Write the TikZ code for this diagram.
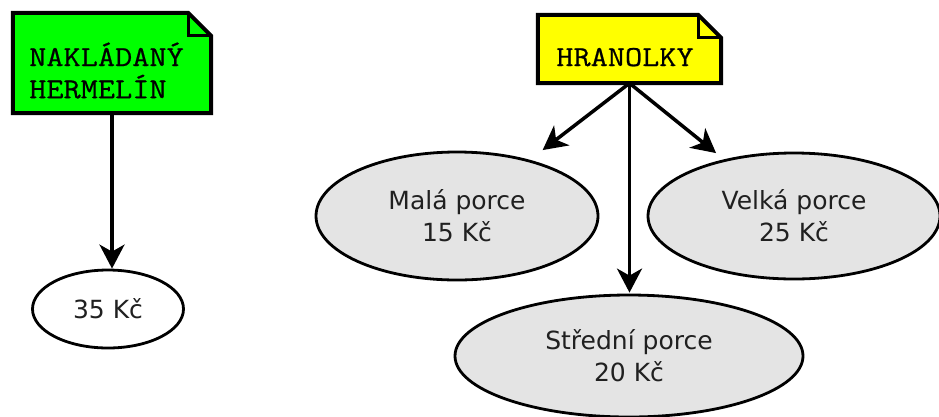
\documentclass[tikz,border=0pt]{standalone}
\usepackage{fontspec}
\setmainfont{DejaVu Sans}
\newfontfamily\notefont[FakeStretch=1.15,FakeBold=0.6]{Latin Modern Mono}
\usetikzlibrary{arrows.meta,backgrounds,shapes.geometric}

\definecolor{notegreen}{RGB}{0,255,0}
\definecolor{noteyellow}{RGB}{255,255,0}
\definecolor{ovalgray}{RGB}{228,228,228}
\definecolor{ovaltext}{RGB}{32,32,32}

\tikzset{
  notebox/.style={rectangle, inner sep=0pt, font=\notefont\fontsize{29}{29}\selectfont},
  oval/.style={ellipse, draw, line width=2.8pt, inner sep=0pt, fill=ovalgray,
    text=ovaltext, font=\fontsize{25}{32}\selectfont, align=center},
  link/.style={line width=3.5pt, -{Stealth[length=24pt,width=25pt,inset=7pt]}},
}

% outline of a note with a folded top-right corner, drawn behind node #1
\newcommand\foldednote[2]{%
  \begin{scope}[on background layer]
    \filldraw[fill=#2, line width=4pt, line join=miter]
      (#1.north west) -- ([xshift=-23pt]#1.north east)
      -- ([yshift=-23pt]#1.north east) -- (#1.south east)
      -- (#1.south west) -- cycle;
    \draw[line width=2.8pt] ([xshift=-23pt]#1.north east) |- ([yshift=-23pt]#1.north east);
  \end{scope}}

\begin{document}
\begin{tikzpicture}[x=1pt, y=-1pt]
  \useasboundingbox (0,0) rectangle (939,416);

  % notes
  \node[notebox, minimum width=198pt, minimum height=100pt] (hermelin) at (112,63)
    {\raisebox{-3pt}[0pt][0pt]{\hspace*{-11pt}\begin{tabular}[t]{@{}l@{}}NAKLÁDANÝ\\HERMELÍN\end{tabular}}};
  \foldednote{hermelin}{notegreen}

  \node[notebox, minimum width=183pt, minimum height=68pt] (hranolky) at (629.5,49)
    {\raisebox{-17pt}[0pt][0pt]{\hspace*{-9pt}HRANOLKY}};
  \foldednote{hranolky}{noteyellow}

  % price ovals
  \node[oval, minimum width=151pt, minimum height=78pt, fill=white] (k35) at (108,309) {35 Kč};
  \node[oval, minimum width=282pt, minimum height=128pt] (mala) at (457,216) {Malá porce\\15 Kč};
  \node[oval, minimum width=292pt, minimum height=126pt] (velka) at (794,216) {Velká porce\\25 Kč};
  \node[oval, minimum width=348pt, minimum height=122pt] (stredni) at (629,356) {Střední porce\\20 Kč};

  % connectors
  \draw[link] (hermelin.south) -- (hermelin.south |- k35.north);
  \draw[link, shorten >=16pt] (hranolky.south) -- (mala);
  \draw[link, shorten >=10pt] (hranolky.south) -- (velka);
  \draw[link, shorten >=1pt] (hranolky.south) -- (hranolky.south |- stredni.north);
\end{tikzpicture}
\end{document}
